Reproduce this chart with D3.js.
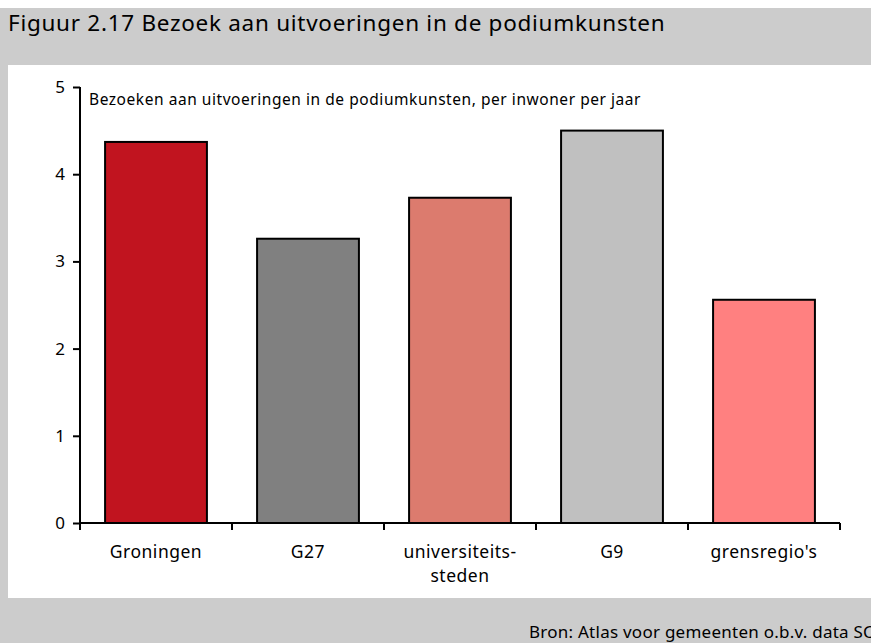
<!DOCTYPE html>
<html>
<head>
<meta charset="utf-8">
<script src="https://cdn.jsdelivr.net/npm/d3@7"></script>
<style>
  body { margin: 0; background: #fff; }
  text { font-family: "Noto Sans", "Open Sans", sans-serif; fill: #000; }
</style>
</head>
<body>
<div id="chart"></div>
<script>
// DATA ---------------------------------------------------------------
const categories = ["Groningen", "G27", "universiteits-\nsteden", "G9", "grensregio's"]
const values     = [4.37, 3.26, 3.73, 4.50, 2.56]
const barColors  = ["#c1141f", "#808080", "#dc7b6e", "#c0c0c0", "#ff8080"]
const yTicks     = [0, 1, 2, 3, 4, 5]

const titleText  = "Figuur 2.17 Bezoek aan uitvoeringen in de podiumkunsten"
const noteText   = "Bezoeken aan uitvoeringen in de podiumkunsten, per inwoner per jaar"
const sourceText = "Bron: Atlas voor gemeenten o.b.v. data SCP"

// CANVAS -------------------------------------------------------------
const W = 871, H = 643
const svg = d3.select("#chart").append("svg")
  .attr("width", W)
  .attr("height", H)

// grey frame + white panel
svg.append("rect").attr("x", 0).attr("y", 8).attr("width", W).attr("height", H - 8).attr("fill", "#cccccc")
svg.append("rect").attr("x", 8).attr("y", 65).attr("width", W - 8).attr("height", 533).attr("fill", "#ffffff")

svg.append("text")
  .attr("x", 8).attr("y", 31)
  .style("font-size", "22.5px")
  .style("letter-spacing", "0.72px")
  .text(titleText)

// source line runs off the right edge, as in the original
svg.append("text")
  .attr("x", 529).attr("y", 638)
  .style("font-size", "17px")
  .style("letter-spacing", "0.25px")
  .text(sourceText)

// SCALES -------------------------------------------------------------
const margin = { left: 80, right: 840, top: 87, bottom: 523 }

const x = d3.scaleBand()
  .domain(categories)
  .range([margin.left, margin.right])
  .paddingInner(0.33)
  .paddingOuter(0.165)

const y = d3.scaleLinear()
  .domain([0, 5])
  .range([margin.bottom, margin.top])

// BARS ---------------------------------------------------------------
svg.append("g").selectAll("rect")
  .data(values)
  .join("rect")
  .attr("x", (d, i) => x(categories[i]))
  .attr("y", d => y(d))
  .attr("width", x.bandwidth())
  .attr("height", d => y(0) - y(d))
  .attr("fill", (d, i) => barColors[i])
  .attr("stroke", "#000")
  .attr("stroke-width", 2)

// AXES ---------------------------------------------------------------
const yAxis = svg.append("g")
  .attr("transform", `translate(${margin.left},0)`)
  .call(d3.axisLeft(y).tickValues(yTicks).tickSize(7).tickPadding(8).tickFormat(d3.format("d")))
yAxis.select(".domain").attr("stroke-width", 2).attr("d", `M0,${margin.top}V${margin.bottom}`)
yAxis.selectAll(".tick line").attr("stroke-width", 2)
yAxis.selectAll("text").style("font-size", "17px").style("font-family", "Noto Sans")

// x axis: ticks sit on the category boundaries
const boundaries = d3.range(categories.length + 1).map(i => margin.left + i * (margin.right - margin.left) / categories.length)
const xAxis = svg.append("g")
xAxis.append("line")
  .attr("x1", margin.left).attr("x2", margin.right)
  .attr("y1", y(0)).attr("y2", y(0))
  .attr("stroke", "#000").attr("stroke-width", 2)
xAxis.selectAll("line.tick")
  .data(boundaries)
  .join("line")
  .attr("class", "tick")
  .attr("x1", d => d).attr("x2", d => d)
  .attr("y1", y(0)).attr("y2", y(0) + 7)
  .attr("stroke", "#000").attr("stroke-width", 2)

xAxis.selectAll("text.cat")
  .data(categories)
  .join("text")
  .attr("class", "cat")
  .attr("x", d => x(d) + x.bandwidth() / 2)
  .attr("y", 558)
  .attr("text-anchor", "middle")
  .style("font-size", "17.5px")
  .style("letter-spacing", "0.5px")
  .each(function(d) {
    const lines = d.split("\n")
    d3.select(this).selectAll("tspan")
      .data(lines)
      .join("tspan")
      .attr("x", x(d) + x.bandwidth() / 2)
      .attr("dy", (l, i) => i ? 24 : 0)
      .text(l => l)
  })

svg.append("text")
  .attr("x", 89).attr("y", 105)
  .style("font-size", "15.5px")
  .style("letter-spacing", "0.55px")
  .text(noteText)
</script>
</body>
</html>
